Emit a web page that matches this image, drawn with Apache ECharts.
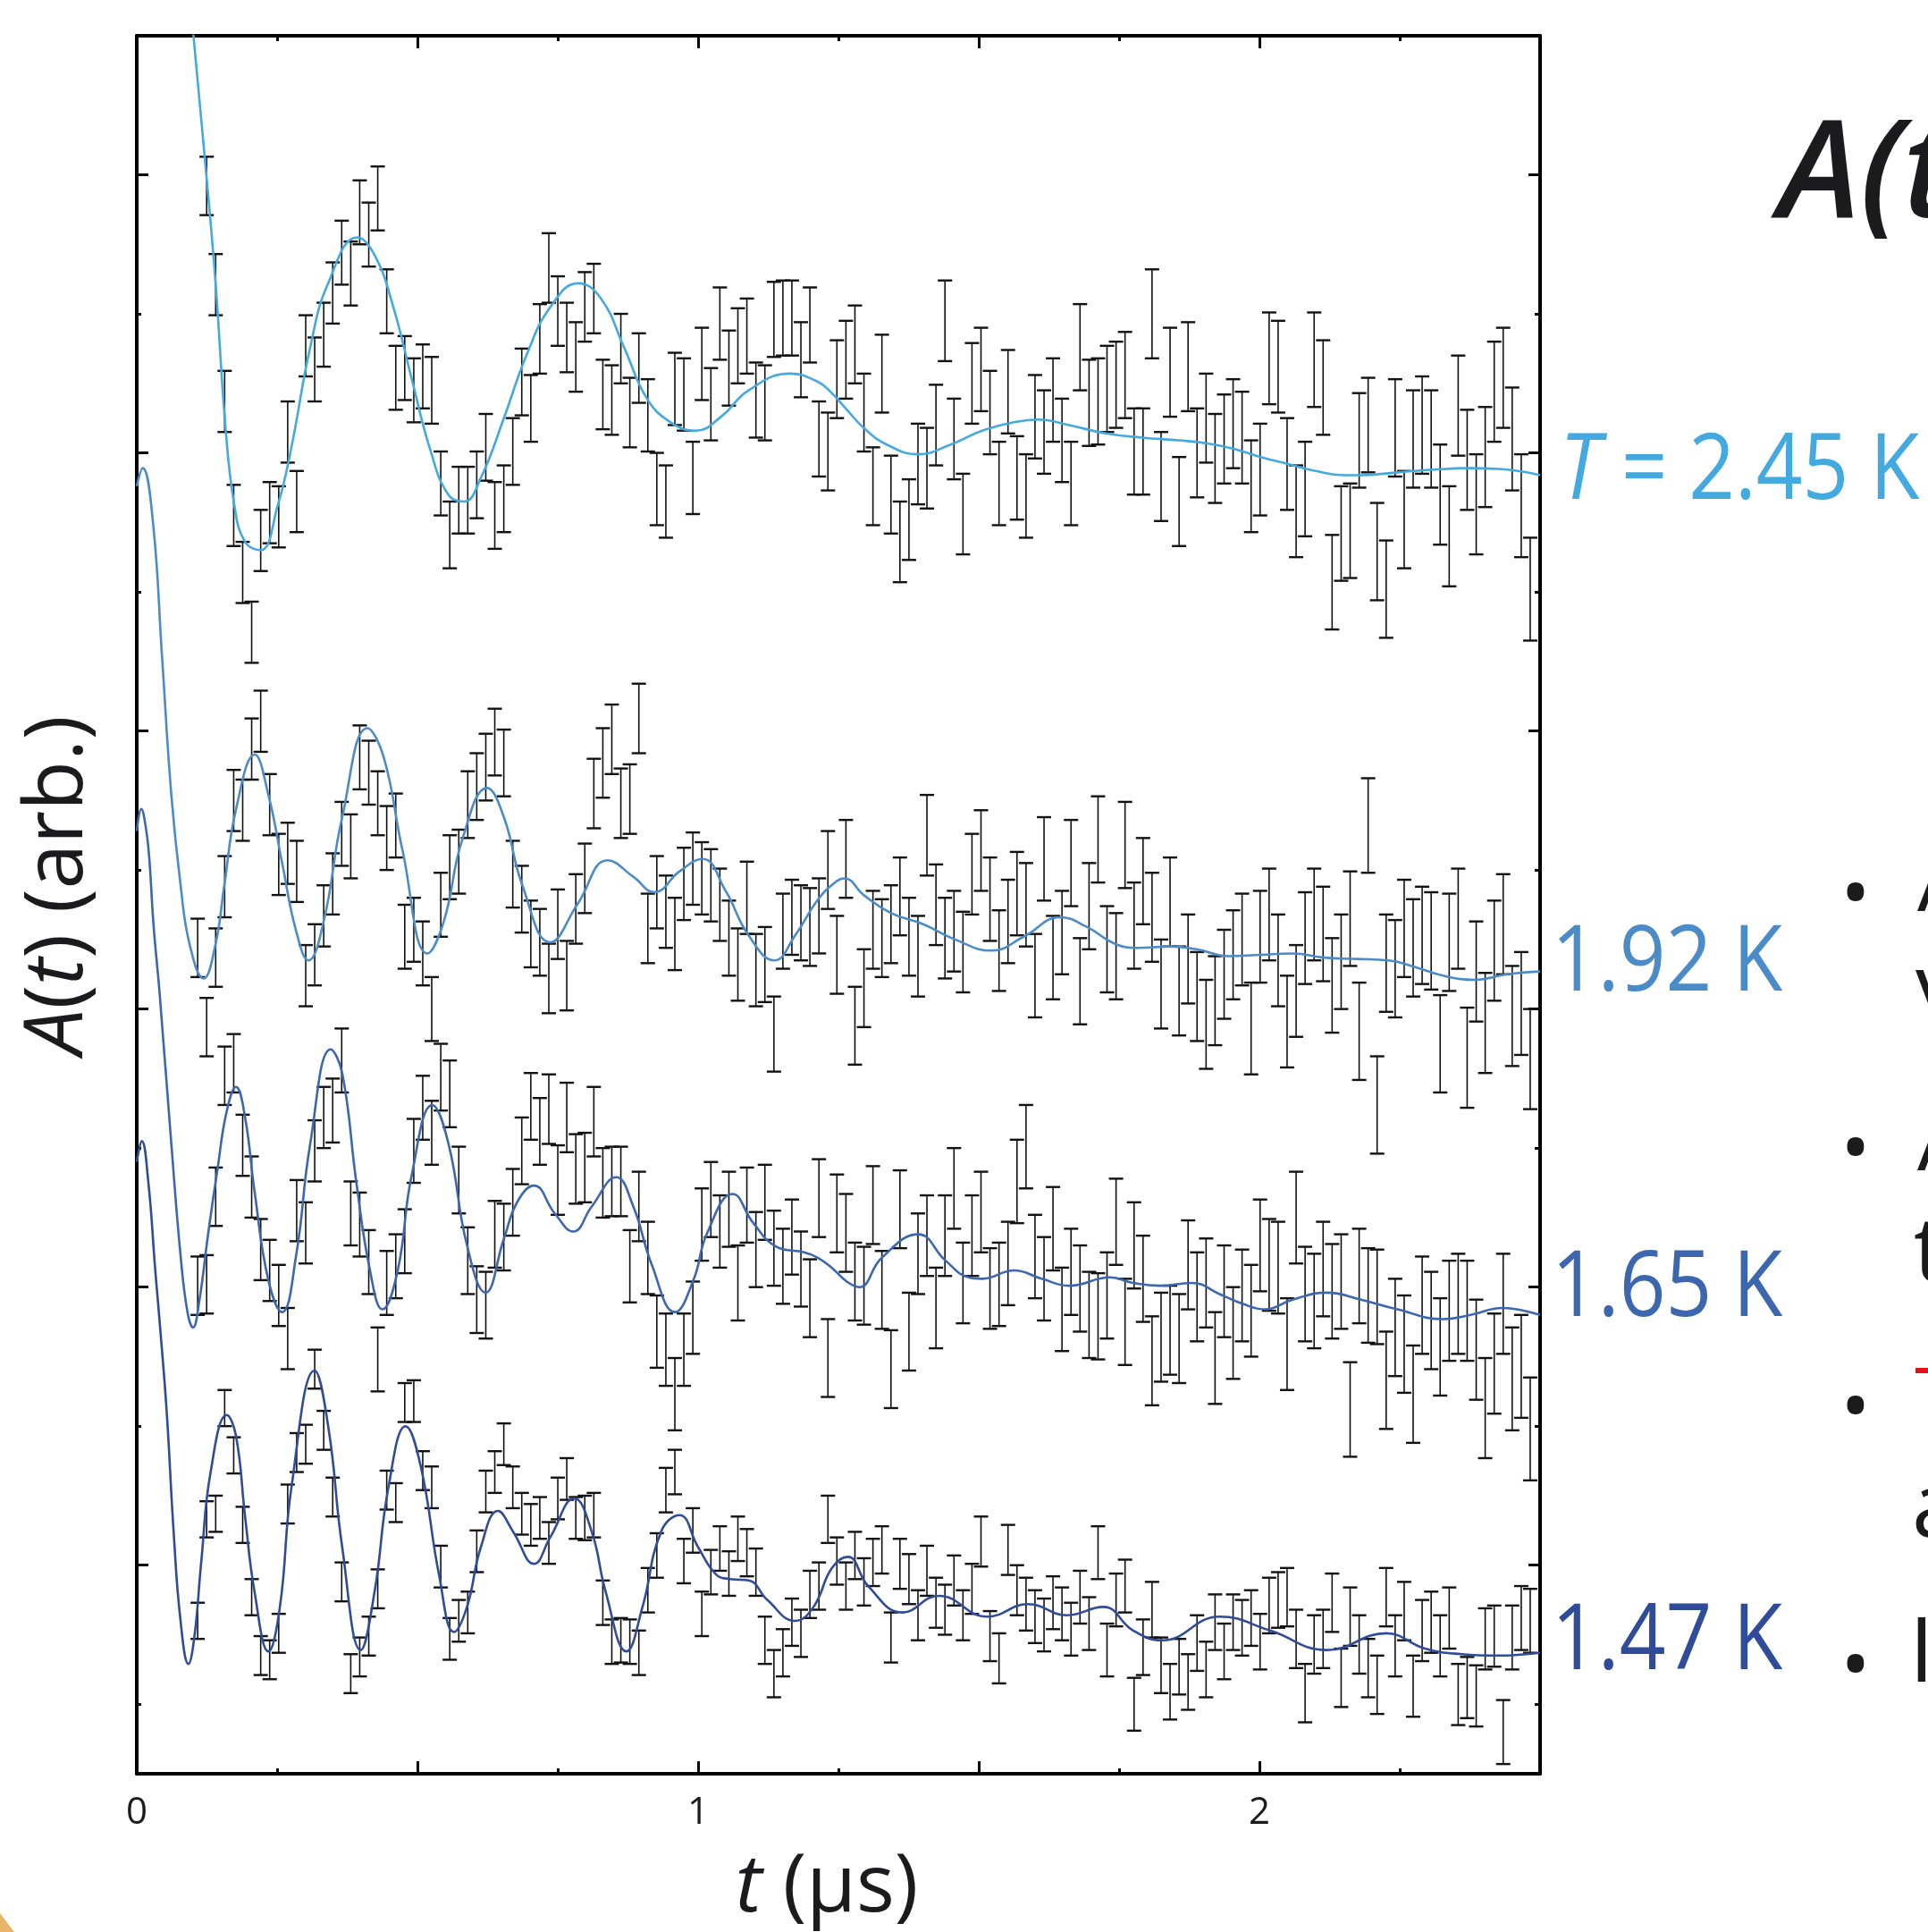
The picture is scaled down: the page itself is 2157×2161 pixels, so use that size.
<!DOCTYPE html>
<html>
<head>
<meta charset="utf-8">
<script src="https://cdn.jsdelivr.net/npm/echarts@6/dist/echarts.min.js"></script>
<style>
html,body{margin:0;padding:0;background:#fff;}
#chart{width:2157px;height:2161px;}
</style>
</head>
<body>
<div id="chart"></div>
<script>
// ---- time bins (µs) ----
const T_BINS = [
0.1085,0.1245,0.1406,0.1566,0.1727,0.1887,0.2047,0.2208,0.2368,0.2529,
0.2689,0.2849,0.3010,0.3170,0.3331,0.3491,0.3651,0.3812,0.3972,0.4133,
0.4293,0.4453,0.4614,0.4774,0.4935,0.5095,0.5255,0.5416,0.5576,0.5737,
0.5897,0.6057,0.6218,0.6378,0.6539,0.6699,0.6859,0.7020,0.7180,0.7341,
0.7501,0.7661,0.7822,0.7982,0.8143,0.8303,0.8463,0.8624,0.8784,0.8945,
0.9105,0.9265,0.9426,0.9586,0.9747,0.9907,1.0067,1.0228,1.0388,1.0549,
1.0709,1.0869,1.1030,1.1190,1.1351,1.1511,1.1671,1.1832,1.1992,1.2153,
1.2313,1.2473,1.2634,1.2794,1.2955,1.3115,1.3275,1.3436,1.3596,1.3757,
1.3917,1.4077,1.4238,1.4398,1.4559,1.4719,1.4879,1.5040,1.5200,1.5361,
1.5521,1.5681,1.5842,1.6002,1.6163,1.6323,1.6483,1.6644,1.6804,1.6965,
1.7125,1.7285,1.7446,1.7606,1.7767,1.7927,1.8087,1.8248,1.8408,1.8569,
1.8729,1.8889,1.9050,1.9210,1.9371,1.9531,1.9691,1.9852,2.0012,2.0173,
2.0333,2.0493,2.0654,2.0814,2.0975,2.1135,2.1295,2.1456,2.1616,2.1777,
2.1937,2.2097,2.2258,2.2418,2.2579,2.2739,2.2899,2.3060,2.3220,2.3381,
2.3541,2.3701,2.3862,2.4022,2.4183,2.4343,2.4503,2.4664,2.4824];

// ---- T = 2.45 K (offset, arb.) ----
const V245 = [
null,11.42,10.71,9.87,9.05,8.64,8.21,8.87,9.07,9.04,
9.65,9.15,10.27,10.10,10.35,10.65,10.94,10.79,11.23,11.07,
11.33,10.59,10.04,10.11,9.95,10.05,9.95,9.28,8.91,9.16,
9.16,9.27,9.54,9.05,9.17,9.51,10.01,9.82,10.32,10.83,
10.52,10.33,10.19,10.55,10.61,9.92,9.88,10.25,9.79,10.11,
9.77,9.24,9.15,9.96,9.92,9.32,10.14,9.85,10.43,10.11,
10.27,10.34,9.88,9.86,10.46,10.47,10.47,10.17,10.42,9.60,
9.51,10.03,10.17,10.28,9.79,9.26,10.07,9.20,8.86,9.02,
9.42,9.39,9.70,10.45,9.60,9.06,10.00,10.10,9.79,9.28,
9.94,9.32,9.19,9.76,9.65,9.88,9.59,9.28,10.26,9.86,
9.87,9.96,9.99,10.06,9.51,9.51,10.50,9.33,10.08,9.15,
10.12,9.50,9.75,9.46,9.60,9.71,9.61,9.26,9.38,10.18,
10.12,9.42,9.08,9.24,10.17,9.97,8.57,8.92,8.94,9.59,
9.70,8.79,8.52,9.68,9.02,9.60,9.70,9.60,9.20,8.90,
9.84,9.45,9.13,9.47,9.94,10.04,9.60,9.12,8.52];
const E245 = [
.21,.21,.22,.22,.22,.22,.22,.22,.22,.22,
.22,.22,.22,.23,.23,.22,.23,.23,.23,.23,
.23,.23,.23,.23,.23,.23,.24,.23,.24,.24,
.24,.24,.24,.24,.24,.24,.24,.24,.25,.25,
.25,.25,.25,.25,.25,.25,.25,.25,.25,.25,
.26,.26,.26,.26,.26,.26,.26,.26,.26,.27,
.27,.27,.27,.27,.27,.27,.27,.27,.27,.27,
.28,.28,.28,.28,.28,.28,.28,.28,.29,.29,
.29,.29,.29,.29,.29,.29,.29,.30,.30,.30,
.30,.30,.30,.30,.30,.30,.30,.30,.31,.31,
.31,.31,.31,.31,.31,.31,.32,.32,.32,.32,
.32,.32,.32,.32,.32,.32,.33,.33,.33,.33,
.33,.33,.33,.34,.34,.34,.34,.34,.34,.34,
.34,.35,.35,.35,.35,.35,.35,.35,.36,.36,
.36,.36,.36,.36,.36,.36,.37,.37,.37];

// ---- 1.92 K ----
const V192 = [
5.94,5.37,5.87,6.38,7.00,6.93,7.37,7.57,6.97,6.54,
6.62,6.49,5.74,5.89,6.17,6.40,6.76,6.67,7.31,7.20,
6.98,6.73,6.82,6.02,6.07,5.90,5.50,6.25,6.52,6.56,
6.97,7.10,7.24,7.42,7.27,6.47,6.29,6.04,5.98,5.72,
6.11,5.74,6.22,6.44,7.05,7.27,7.44,6.98,7.01,7.59,
6.08,6.34,6.20,6.04,6.40,6.51,6.44,6.39,6.25,6.01,
5.82,6.30,5.78,5.82,5.32,6.06,6.16,6.12,6.09,6.17,
6.50,5.89,6.58,5.38,5.65,6.07,6.01,6.11,6.31,6.02,
5.88,6.75,6.25,6.01,6.06,5.91,6.47,6.64,6.29,5.92,
6.13,6.33,6.25,5.74,6.58,5.87,6.05,6.55,5.70,6.24,
6.72,5.93,5.88,6.68,6.10,6.42,6.16,5.68,6.27,5.63,
5.86,5.59,5.39,5.56,5.75,5.89,6.00,5.36,6.02,6.18,
5.85,5.41,5.63,6.01,6.18,6.04,5.67,5.84,6.15,5.34,
6.82,4.81,5.83,5.79,6.08,5.94,6.03,5.99,5.25,5.98,
6.15,5.15,5.77,5.40,5.92,6.11,5.45,5.54,5.14];
const E192 = [
.21,.21,.21,.22,.22,.22,.22,.22,.22,.22,
.22,.22,.22,.22,.22,.22,.23,.23,.23,.23,
.23,.23,.23,.23,.23,.23,.23,.23,.23,.23,
.24,.24,.24,.24,.24,.24,.24,.24,.24,.25,
.25,.25,.25,.25,.25,.25,.25,.25,.25,.25,
.25,.26,.26,.26,.26,.26,.26,.26,.26,.27,
.26,.26,.26,.27,.27,.27,.27,.27,.28,.27,
.28,.28,.28,.28,.28,.28,.28,.28,.28,.28,
.29,.29,.29,.29,.29,.29,.29,.29,.30,.29,
.30,.30,.30,.30,.30,.30,.30,.31,.31,.31,
.31,.31,.31,.31,.31,.31,.32,.32,.32,.32,
.32,.32,.32,.32,.32,.32,.33,.33,.33,.33,
.33,.33,.33,.33,.33,.34,.34,.34,.34,.35,
.34,.35,.35,.35,.35,.35,.35,.35,.35,.35,
.36,.36,.36,.36,.36,.36,.36,.37,.36];

// ---- 1.65 K ----
const V165 = [
3.51,3.52,4.15,5.02,5.11,4.52,4.22,3.77,3.62,3.44,
3.13,4.05,3.89,4.48,4.72,4.77,5.13,4.03,3.95,3.68,
2.98,3.53,3.65,3.83,4.48,4.79,4.61,5.01,4.89,4.27,
3.69,3.41,3.37,3.88,3.86,4.11,4.48,4.80,4.62,4.78,
4.27,4.72,4.35,4.36,4.69,4.25,4.26,4.26,3.65,4.08,
3.71,3.18,3.05,2.73,3.05,3.28,3.95,4.13,3.90,4.06,
3.53,4.09,3.77,4.11,3.78,3.65,3.86,3.63,3.42,4.14,
2.99,4.03,3.89,3.54,3.51,4.09,3.48,2.91,4.06,3.18,
3.74,3.87,3.35,3.87,4.21,3.53,3.87,4.04,3.49,3.52,
3.67,4.26,4.51,3.72,3.56,3.92,3.34,3.61,3.49,3.30,
3.29,3.44,3.97,3.25,3.80,3.56,2.97,3.14,3.19,3.13,
3.66,3.43,3.53,2.99,3.47,3.17,3.44,3.33,3.80,3.66,
3.64,3.09,4.00,3.45,3.40,3.63,3.47,3.54,2.62,3.58,
3.44,3.43,2.83,3.21,3.09,2.73,3.37,3.26,3.07,3.33,
3.38,3.33,3.05,2.63,2.95,3.38,2.84,2.93,2.48];
const E165 = [
.21,.21,.21,.21,.21,.22,.22,.22,.22,.22,
.22,.22,.22,.22,.22,.23,.23,.23,.23,.23,
.23,.23,.23,.23,.23,.23,.23,.24,.24,.24,
.24,.24,.24,.24,.24,.24,.24,.24,.24,.25,
.25,.25,.25,.25,.25,.25,.25,.25,.26,.25,
.26,.26,.26,.26,.26,.26,.26,.27,.26,.27,
.27,.27,.27,.27,.27,.27,.27,.27,.28,.28,
.28,.28,.28,.28,.28,.28,.28,.28,.28,.28,
.29,.29,.29,.29,.29,.29,.29,.29,.29,.30,
.30,.30,.30,.30,.30,.30,.30,.31,.31,.31,
.31,.31,.31,.31,.31,.31,.32,.32,.32,.32,
.32,.32,.32,.33,.33,.33,.33,.33,.33,.33,
.33,.33,.33,.34,.34,.34,.34,.34,.34,.34,
.34,.34,.35,.35,.35,.35,.35,.35,.35,.36,
.36,.36,.36,.36,.36,.36,.37,.37,.37];

// ---- 1.47 K ----
const V147 = [
1.10,1.83,1.87,2.63,2.29,1.79,1.27,0.85,0.82,1.01,
1.94,2.31,2.37,2.91,2.47,1.99,1.38,0.72,0.84,0.99,
1.33,2.04,1.95,2.67,2.68,2.18,2.06,1.49,0.97,1.10,
1.16,1.60,2.03,2.17,2.37,2.06,1.87,1.79,1.84,1.66,
1.98,2.12,1.84,1.84,1.86,1.23,0.95,0.96,0.95,0.87,
1.32,1.57,2.04,2.17,1.53,1.75,1.15,1.45,1.62,1.44,
1.69,1.59,1.45,0.96,0.72,0.87,1.09,1.01,1.29,1.35,
1.83,1.53,1.35,1.57,1.38,1.52,1.61,0.98,1.51,1.40,
1.14,1.46,1.23,1.18,1.39,1.14,1.33,1.67,0.99,0.83,
1.61,1.32,1.22,1.13,1.07,1.23,1.15,1.04,1.27,1.08,
1.59,0.89,1.25,1.35,0.50,0.91,1.18,0.78,0.59,0.77,
0.66,0.94,0.75,1.09,0.88,1.09,1.05,1.12,0.95,1.21,
1.25,1.27,0.97,0.58,0.93,0.97,1.23,0.69,1.13,0.93,
0.76,0.64,1.27,0.92,1.17,0.63,1.03,1.09,0.92,1.12,
0.57,0.62,0.56,0.97,0.99,0.30,0.98,1.12,1.10];
const E147 = [
.13,.13,.13,.13,.13,.13,.13,.14,.14,.14,
.14,.14,.14,.14,.14,.14,.14,.14,.14,.14,
.14,.14,.14,.14,.15,.14,.15,.15,.15,.15,
.15,.15,.15,.15,.15,.15,.15,.15,.15,.15,
.15,.15,.15,.16,.16,.16,.16,.16,.16,.16,
.16,.16,.16,.16,.16,.16,.16,.16,.16,.16,
.16,.17,.17,.17,.17,.17,.17,.17,.17,.17,
.17,.17,.17,.17,.17,.17,.17,.18,.18,.18,
.18,.18,.18,.18,.18,.18,.18,.18,.18,.18,
.18,.18,.19,.19,.19,.19,.19,.19,.19,.19,
.19,.19,.19,.19,.19,.20,.20,.20,.20,.20,
.20,.20,.20,.20,.20,.20,.20,.20,.20,.20,
.20,.21,.21,.21,.21,.21,.21,.21,.21,.21,
.21,.21,.21,.22,.21,.22,.22,.22,.22,.22,
.22,.22,.22,.22,.22,.23,.23,.23,.23];

// ---- fitted curves [t, A] ----
const FIT245 = [[0.09,13.0],[0.101,12.5],[0.126,11.41],[0.141,10.69],[0.158,9.69],[0.174,9.12],[0.193,8.86],[0.2205,8.80],[0.251,9.12],[0.276,9.55],[0.309,10.26],[0.341,10.72],[0.393,11.05],[0.424,10.92],[0.457,10.55],[0.490,10.03],[0.523,9.52],[0.555,9.20],[0.583,9.15],[0.613,9.32],[0.654,9.75],[0.695,10.21],[0.737,10.55],[0.786,10.72],[0.827,10.61],[0.868,10.26],[0.909,9.89],[0.951,9.72],[0.996,9.66],[1.041,9.76],[1.090,9.95],[1.164,10.07],[1.214,10.01],[1.238,9.93],[1.263,9.82],[1.295,9.68],[1.336,9.56],[1.392,9.49],[1.450,9.56],[1.506,9.66],[1.563,9.72],[1.604,9.74],[1.661,9.70],[1.726,9.64],[1.791,9.61],[1.856,9.59],[1.905,9.57],[1.954,9.53],[2.002,9.47],[2.051,9.42],[2.100,9.37],[2.149,9.34],[2.181,9.34],[2.246,9.36],[2.311,9.38],[2.376,9.39],[2.441,9.38],[2.5,9.34]];
const FIT192 = [[0,9.26],[0.0106,9.39],[0.0287,9.01],[0.0451,8.03],[0.0616,7.04],[0.0781,6.39],[0.0945,5.96],[0.119,5.72],[0.140,5.96],[0.156,6.39],[0.177,6.94],[0.210,7.33],[0.2345,7.04],[0.259,6.55],[0.284,6.06],[0.306,5.85],[0.333,6.13],[0.366,6.88],[0.411,7.52],[0.440,7.31],[0.473,6.65],[0.518,5.90],[0.547,6.13],[0.580,6.72],[0.624,7.09],[0.654,6.88],[0.687,6.39],[0.7365,5.98],[0.786,6.26],[0.839,6.57],[0.885,6.45],[0.922,6.34],[0.967,6.49],[1.008,6.58],[1.049,6.35],[1.090,6.03],[1.136,5.85],[1.173,6.03],[1.214,6.29],[1.247,6.42],[1.261,6.44],[1.295,6.32],[1.344,6.19],[1.401,6.11],[1.458,6.00],[1.523,5.92],[1.580,6.02],[1.645,6.16],[1.693,6.09],[1.742,5.97],[1.783,5.94],[1.840,5.95],[1.888,5.93],[1.945,5.88],[2.002,5.89],[2.059,5.90],[2.116,5.87],[2.173,5.86],[2.230,5.85],[2.279,5.80],[2.327,5.74],[2.384,5.71],[2.441,5.75],[2.5,5.77]];
const FIT165 = [[0,6.78],[0.008,6.94],[0.016,6.81],[0.022,6.6],[0.030,6.1],[0.041,5.6],[0.0616,4.53],[0.078,3.73],[0.0904,3.32],[0.1003,3.21],[0.111,3.39],[0.1274,3.89],[0.1439,4.35],[0.160,4.76],[0.1768,4.94],[0.193,4.72],[0.2098,4.19],[0.2345,3.55],[0.259,3.32],[0.284,3.73],[0.309,4.53],[0.3456,5.21],[0.366,5.04],[0.391,4.26],[0.4155,3.62],[0.4377,3.34],[0.4649,3.62],[0.4896,4.30],[0.5266,4.81],[0.5554,4.53],[0.5884,3.80],[0.6213,3.46],[0.6542,3.85],[0.6789,4.12],[0.7077,4.23],[0.7447,4.03],[0.7776,3.90],[0.8106,4.08],[0.8542,4.29],[0.8846,4.08],[0.9176,3.66],[0.9587,3.32],[0.9916,3.55],[1.0163,3.89],[1.0616,4.17],[1.0986,3.96],[1.1398,3.79],[1.189,3.75],[1.2139,3.71],[1.238,3.64],[1.265,3.54],[1.287,3.50],[1.327,3.71],[1.392,3.88],[1.441,3.69],[1.482,3.57],[1.506,3.56],[1.563,3.62],[1.612,3.56],[1.661,3.51],[1.734,3.57],[1.775,3.53],[1.823,3.51],[1.880,3.53],[1.929,3.45],[1.970,3.38],[2.010,3.34],[2.059,3.41],[2.120,3.46],[2.181,3.41],[2.246,3.34],[2.327,3.27],[2.376,3.30],[2.433,3.35],[2.5,3.30]];
const FIT147 = [[0,4.40],[0.009,4.55],[0.0205,4.26],[0.033,3.62],[0.041,3.24],[0.0534,2.60],[0.0657,1.74],[0.078,1.10],[0.092,0.79],[0.1028,0.99],[0.115,1.53],[0.1316,2.17],[0.1604,2.58],[0.1768,2.43],[0.193,1.85],[0.2098,1.31],[0.2345,0.88],[0.255,1.20],[0.2756,2.06],[0.3168,2.90],[0.3414,2.49],[0.366,1.63],[0.399,0.89],[0.4237,1.31],[0.4484,2.06],[0.479,2.50],[0.506,2.21],[0.539,1.42],[0.5653,1.02],[0.5883,1.20],[0.613,1.63],[0.6435,1.89],[0.6707,1.74],[0.7077,1.51],[0.7365,1.70],[0.7793,1.98],[0.8106,1.74],[0.8353,1.31],[0.8723,0.88],[0.901,1.20],[0.934,1.74],[0.967,1.86],[1.0,1.63],[1.033,1.43],[1.0575,1.40],[1.0904,1.39],[1.1233,1.25],[1.1727,1.10],[1.2056,1.20],[1.2385,1.48],[1.267,1.56],[1.303,1.35],[1.364,1.16],[1.429,1.28],[1.515,1.13],[1.588,1.22],[1.657,1.14],[1.722,1.20],[1.775,1.03],[1.827,0.96],[1.929,1.13],[2.019,1.03],[2.120,0.89],[2.226,1.01],[2.295,0.90],[2.360,0.86],[2.425,0.85],[2.5,0.87]];

// ---- axis ticks / labels ----
const X_LABELS = [0, 1, 2];
const Y_MAJOR_TICKS = [1.5, 3.5, 5.5, 7.5, 9.5, 11.5];
const Y_MINOR_TICKS = [0.5, 2.5, 4.5, 6.5, 8.5, 10.5];
const SERIES_LABELS = ['2.45 K', '1.92 K', '1.65 K', '1.47 K'];
const COLORS = ['#44a9df', '#4a8bc8', '#3c67ae', '#304b97'];

const FONT = 'Open Sans';
const INK = '#1b1a1c';

function bars(vals, errs) {
  const out = [];
  for (let i = 0; i < T_BINS.length; i++) {
    if (vals[i] == null) continue;
    out.push([T_BINS[i], +(vals[i] - errs[i]).toFixed(3), +(vals[i] + errs[i]).toFixed(3)]);
  }
  return out;
}
function errRender(params, api) {
  const x = api.value(0);
  const lo = api.coord([x, api.value(1)]);
  const hi = api.coord([x, api.value(2)]);
  const hw = 8;
  const s = {stroke: '#111', lineWidth: 1.6};
  const c = {stroke: '#111', lineWidth: 2.4};
  return {type: 'group', children: [
    {type: 'line', shape: {x1: lo[0], y1: lo[1], x2: hi[0], y2: hi[1]}, style: s},
    {type: 'line', shape: {x1: lo[0] - hw, y1: lo[1], x2: lo[0] + hw, y2: lo[1]}, style: c},
    {type: 'line', shape: {x1: hi[0] - hw, y1: hi[1], x2: hi[0] + hw, y2: hi[1]}, style: c}
  ]};
}
function errSeries(name, vals, errs) {
  return {type: 'custom', name: name, data: bars(vals, errs), renderItem: errRender,
    encode: {x: 0, y: [1, 2]}, z: 2, silent: true, animation: false};
}
function fitSeries(name, data, color) {
  return {type: 'line', name: name, data: data, smooth: 0.45, symbol: 'none', showSymbol: false,
    lineStyle: {color: color, width: 2.6}, z: 3, silent: true, animation: false};
}

const axisLineStyle = {color: '#000', width: 4};
const tickStyle = {color: '#000', width: 3};

function xAxisDef(pos, showLabel) {
  return {type: 'value', position: pos, min: 0, max: 2.5, interval: 0.5,
    axisLine: {show: true, onZero: false, lineStyle: axisLineStyle},
    axisTick: {show: true, inside: true, length: 14, lineStyle: tickStyle},
    minorTick: {show: true, splitNumber: 2, length: 6, lineStyle: tickStyle},
    splitLine: {show: false}, minorSplitLine: {show: false},
    axisLabel: {show: showLabel, margin: 23, fontFamily: FONT, fontSize: 42, color: INK,
      formatter: function (v) { return X_LABELS.indexOf(Math.round(v * 1000) / 1000) >= 0 ? String(v) : ''; }}
  };
}
function yAxisDef(pos, ticks, len, showLine) {
  return {type: 'value', position: pos, min: 0, max: 12.5, offset: 0,
    axisLine: {show: showLine, onZero: false, lineStyle: axisLineStyle},
    axisTick: {show: true, inside: true, length: len, customValues: ticks, lineStyle: tickStyle},
    axisLabel: {show: false}, splitLine: {show: false}};
}

const chart = echarts.init(document.getElementById('chart'), null, {renderer: 'canvas'});
const option = {
  backgroundColor: '#fff',
  animation: false,
  textStyle: {fontFamily: FONT},
  grid: {left: 153, right: 434, top: 40, bottom: 177, containLabel: false},
  xAxis: [xAxisDef('bottom', true), xAxisDef('top', false)],
  yAxis: [
    yAxisDef('left', Y_MAJOR_TICKS, 13, true),
    yAxisDef('left', Y_MINOR_TICKS, 5, false),
    yAxisDef('right', Y_MAJOR_TICKS, 13, true),
    yAxisDef('right', Y_MINOR_TICKS, 6, false)
  ],
  series: [
    errSeries('2.45 K data', V245, E245),
    errSeries('1.92 K data', V192, E192),
    errSeries('1.65 K data', V165, E165),
    errSeries('1.47 K data', V147, E147),
    fitSeries('2.45 K fit', FIT245, COLORS[0]),
    fitSeries('1.92 K fit', FIT192, COLORS[1]),
    fitSeries('1.65 K fit', FIT165, COLORS[2]),
    fitSeries('1.47 K fit', FIT147, COLORS[3])
  ],
  graphic: [
    // axis titles
    {type: 'text', x: 66, y: 990, rotation: Math.PI / 2, silent: true,
      style: {text: '{i|A}({i|t}) (arb.)', fontFamily: FONT, fontSize: 91, fill: INK, align: 'center', verticalAlign: 'middle',
        rich: {i: {fontStyle: 'italic', fontFamily: FONT, fontSize: 91, fill: INK}}}},
    {type: 'text', x: 925, y: 2112, silent: true,
      style: {text: '{i|t} (μs)', fontFamily: FONT, fontSize: 90, fill: INK, align: 'center', verticalAlign: 'middle',
        rich: {i: {fontStyle: 'italic', fontFamily: FONT, fontSize: 90, fill: INK}}}},
    // temperature labels
    {type: 'text', x: 1745, y: 529, scaleX: 0.88, silent: true,
      style: {text: '{i|T} = ' + SERIES_LABELS[0], fontFamily: FONT, fontSize: 103, fill: COLORS[0], align: 'left', verticalAlign: 'middle',
        rich: {i: {fontStyle: 'italic', fontFamily: FONT, fontSize: 103, fill: COLORS[0]}}}},
    {type: 'text', x: 1736, y: 1079, scaleX: 0.88, silent: true,
      style: {text: SERIES_LABELS[1], fontFamily: FONT, fontSize: 103, fill: COLORS[1], align: 'left', verticalAlign: 'middle'}},
    {type: 'text', x: 1736, y: 1443, scaleX: 0.88, silent: true,
      style: {text: SERIES_LABELS[2], fontFamily: FONT, fontSize: 103, fill: COLORS[2], align: 'left', verticalAlign: 'middle'}},
    {type: 'text', x: 1736, y: 1838, scaleX: 0.88, silent: true,
      style: {text: SERIES_LABELS[3], fontFamily: FONT, fontSize: 103, fill: COLORS[3], align: 'left', verticalAlign: 'middle'}},
    // slide remnants on the right edge
    {type: 'text', x: 1990, y: 199, silent: true,
      style: {text: 'A(t)', fontFamily: FONT, fontSize: 153, fontStyle: 'italic', fontWeight: 600, fill: INK, align: 'left', verticalAlign: 'middle'}},
    {type: 'text', x: 2076, y: 1004, silent: true, style: {text: '•', fontFamily: FONT, fontSize: 90, fill: INK, align: 'center', verticalAlign: 'middle'}},
    {type: 'text', x: 2076, y: 1289, silent: true, style: {text: '•', fontFamily: FONT, fontSize: 90, fill: INK, align: 'center', verticalAlign: 'middle'}},
    {type: 'text', x: 2076, y: 1578, silent: true, style: {text: '•', fontFamily: FONT, fontSize: 90, fill: INK, align: 'center', verticalAlign: 'middle'}},
    {type: 'text', x: 2076, y: 1867, silent: true, style: {text: '•', fontFamily: FONT, fontSize: 90, fill: INK, align: 'center', verticalAlign: 'middle'}},
    {type: 'text', x: 2145, y: 991, silent: true, style: {text: 'A', fontFamily: FONT, fontSize: 100, fill: INK, align: 'left', verticalAlign: 'middle'}},
    {type: 'text', x: 2143, y: 1111, silent: true, style: {text: 'v', fontFamily: FONT, fontSize: 100, fill: INK, align: 'left', verticalAlign: 'middle'}},
    {type: 'text', x: 2145, y: 1281, silent: true, style: {text: 'A', fontFamily: FONT, fontSize: 100, fill: INK, align: 'left', verticalAlign: 'middle'}},
    {type: 'text', x: 2141, y: 1405, silent: true, style: {text: 't', fontFamily: FONT, fontSize: 100, fill: INK, align: 'left', verticalAlign: 'middle'}},
    {type: 'text', x: 2139, y: 1691, silent: true, style: {text: 'a', fontFamily: FONT, fontSize: 100, fill: INK, align: 'left', verticalAlign: 'middle'}},
    {type: 'text', x: 2136, y: 1853, silent: true, style: {text: 'I', fontFamily: FONT, fontSize: 100, fill: INK, align: 'left', verticalAlign: 'middle'}},
    {type: 'rect', silent: true, shape: {x: 2143, y: 1530, width: 14, height: 6}, style: {fill: '#e3101b'}},
    {type: 'polygon', silent: true, shape: {points: [[0, 2140], [16, 2161], [0, 2161]]}, style: {fill: '#e8b468'}}
  ]
};
chart.setOption(option);
</script>
</body>
</html>
